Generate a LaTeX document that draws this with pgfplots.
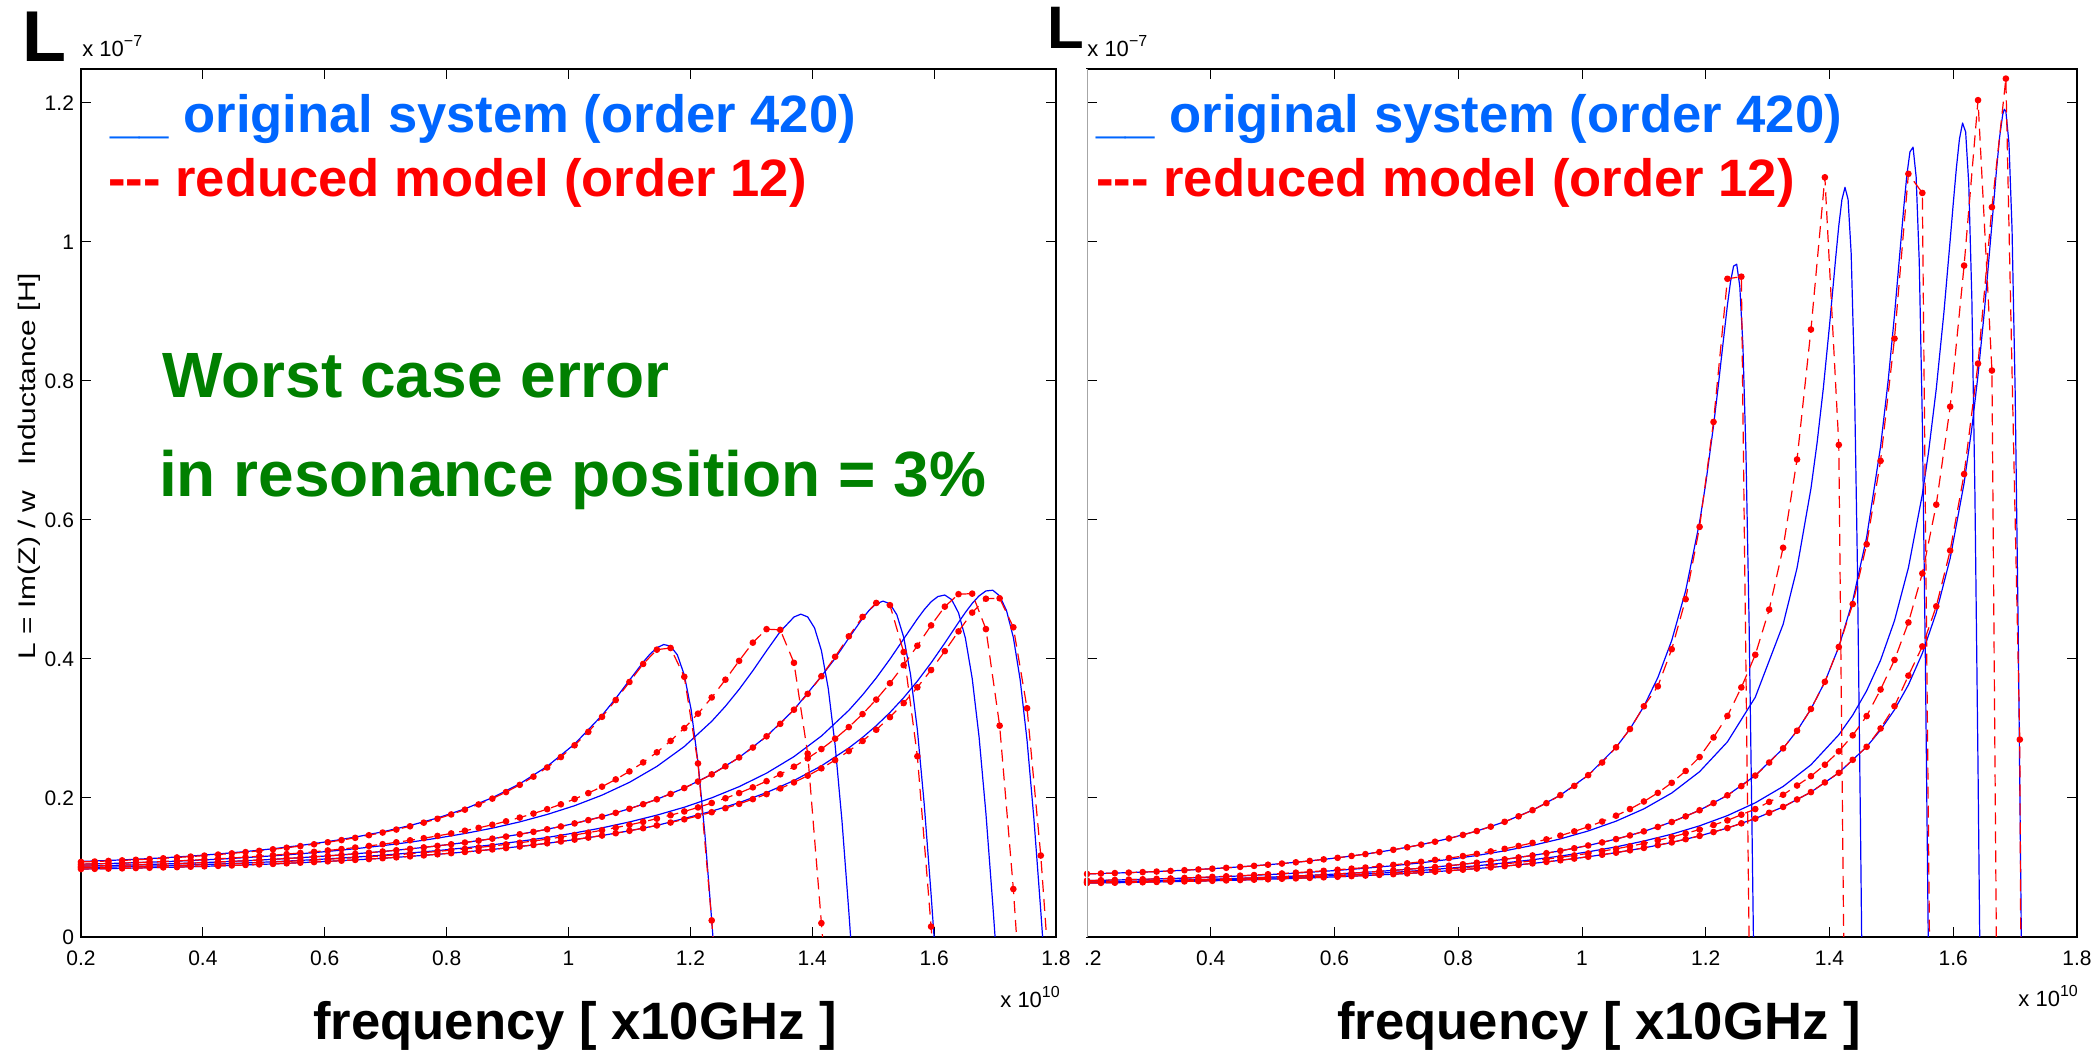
\documentclass[border=0pt]{standalone}
\usepackage{fontspec}
\setmainfont{Liberation Sans}
\usepackage{graphicx}
\usepackage{pgfplots}
\usepackage{pgfplotstable}
\pgfplotsset{compat=1.18}
\definecolor{legblue}{RGB}{0,102,255}
\definecolor{leggreen}{RGB}{0,128,0}
\definecolor{pblue}{RGB}{0,0,255}
\definecolor{pred}{RGB}{255,0,0}

\pgfplotstableread{
x r1 r2 r3 r4 r5
0.2 0.1080 0.1047 0.1020 0.0999 0.0978
0.2225 0.1086 0.1052 0.1024 0.1002 0.0981
0.245 0.1094 0.1058 0.1028 0.1005 0.0984
0.2675 0.1102 0.1064 0.1033 0.1009 0.0988
0.29 0.1111 0.1070 0.1038 0.1013 0.0992
0.3125 0.1121 0.1078 0.1044 0.1018 0.0996
0.335 0.1132 0.1086 0.1050 0.1023 0.1001
0.3575 0.1144 0.1094 0.1056 0.1028 0.1005
0.38 0.1157 0.1104 0.1063 0.1034 0.1011
0.4025 0.1171 0.1114 0.1071 0.1040 0.1017
0.425 0.1186 0.1125 0.1079 0.1047 0.1023
0.4475 0.1203 0.1136 0.1088 0.1054 0.1029
0.47 0.1221 0.1149 0.1097 0.1062 0.1036
0.4925 0.1240 0.1162 0.1107 0.1070 0.1044
0.515 0.1261 0.1177 0.1117 0.1078 0.1051
0.5375 0.1284 0.1192 0.1129 0.1087 0.1060
0.56 0.1308 0.1209 0.1141 0.1097 0.1069
0.5825 0.1334 0.1226 0.1153 0.1107 0.1078
0.605 0.1363 0.1245 0.1167 0.1118 0.1088
0.6275 0.1394 0.1265 0.1181 0.1130 0.1098
0.65 0.1427 0.1287 0.1197 0.1142 0.1109
0.6725 0.1464 0.1310 0.1213 0.1154 0.1121
0.695 0.1503 0.1335 0.1230 0.1168 0.1133
0.7175 0.1546 0.1362 0.1248 0.1182 0.1146
0.74 0.1593 0.1391 0.1268 0.1198 0.1160
0.7625 0.1645 0.1421 0.1289 0.1214 0.1174
0.785 0.1701 0.1454 0.1311 0.1231 0.1190
0.8075 0.1763 0.1490 0.1334 0.1249 0.1206
0.83 0.1832 0.1529 0.1359 0.1268 0.1223
0.8525 0.1907 0.1570 0.1386 0.1288 0.1241
0.875 0.1991 0.1615 0.1415 0.1309 0.1260
0.8975 0.2085 0.1664 0.1445 0.1332 0.1280
0.92 0.2189 0.1718 0.1478 0.1356 0.1302
0.9425 0.2307 0.1776 0.1513 0.1381 0.1324
0.965 0.2439 0.1839 0.1550 0.1408 0.1348
0.9875 0.2589 0.1909 0.1590 0.1437 0.1374
1.01 0.2758 0.1985 0.1634 0.1468 0.1401
1.0325 0.2951 0.2070 0.1681 0.1501 0.1430
1.055 0.3168 0.2163 0.1731 0.1536 0.1460
1.0775 0.3409 0.2267 0.1786 0.1573 0.1493
1.1 0.3669 0.2382 0.1845 0.1613 0.1528
1.1225 0.3928 0.2512 0.1910 0.1656 0.1565
1.145 0.4134 0.2657 0.1981 0.1703 0.1605
1.1675 0.4158 0.2821 0.2058 0.1752 0.1647
1.19 0.3744 0.3005 0.2143 0.1806 0.1693
1.2125 0.2497 0.3213 0.2237 0.1864 0.1742
1.235 0.0238 0.3446 0.2340 0.1928 0.1795
1.2575 -0.2324 0.3702 0.2455 0.1996 0.1853
1.28 nan 0.3973 0.2583 0.2071 0.1915
1.3025 nan 0.4235 0.2726 0.2153 0.1983
1.325 nan 0.4429 0.2887 0.2242 0.2056
1.3475 nan 0.4419 0.3067 0.2341 0.2137
1.37 nan 0.3945 0.3270 0.2450 0.2224
1.3925 nan 0.2638 0.3498 0.2570 0.2321
1.415 nan 0.0200 0.3752 0.2704 0.2427
1.4375 nan -0.2258 0.4032 0.2853 0.2545
1.46 nan nan 0.4326 0.3020 0.2675
1.4825 nan nan 0.4605 0.3207 0.2820
1.505 nan nan 0.4806 0.3416 0.2982
1.5275 nan nan 0.4774 0.3651 0.3163
1.55 nan nan 0.4100 0.3910 0.3366
1.5725 nan nan 0.2600 0.4191 0.3592
1.595 nan nan 0.0150 0.4483 0.3841
1.6175 nan nan -0.2390 0.4753 0.4113
1.64 nan nan nan 0.4932 0.4397
1.6625 nan nan nan 0.4940 0.4668
1.685 nan nan nan 0.4430 0.4867
1.7075 nan nan nan 0.3040 0.4873
1.73 nan nan nan 0.0690 0.4456
1.7525 nan nan nan -0.2242 0.3291
1.775 nan nan nan nan 0.1172
1.7975 nan nan nan nan -0.1600
}\leftred

\pgfplotstableread{
x r1 r2 r3 r4 r5
0.2 0.0907 0.0812 0.0790 0.0785 0.0775
0.2225 0.0913 0.0816 0.0793 0.0788 0.0778
0.245 0.0919 0.0820 0.0797 0.0790 0.0780
0.2675 0.0926 0.0825 0.0801 0.0794 0.0784
0.29 0.0933 0.0830 0.0805 0.0797 0.0787
0.3125 0.0941 0.0836 0.0810 0.0801 0.0791
0.335 0.0950 0.0842 0.0815 0.0806 0.0795
0.3575 0.0960 0.0849 0.0819 0.0810 0.0799
0.38 0.0971 0.0857 0.0825 0.0815 0.0804
0.4025 0.0982 0.0865 0.0831 0.0821 0.0808
0.425 0.0995 0.0873 0.0837 0.0826 0.0813
0.4475 0.1008 0.0882 0.0844 0.0832 0.0819
0.47 0.1023 0.0891 0.0852 0.0838 0.0824
0.4925 0.1039 0.0902 0.0859 0.0845 0.0830
0.515 0.1056 0.0913 0.0868 0.0852 0.0837
0.5375 0.1074 0.0925 0.0877 0.0859 0.0843
0.56 0.1094 0.0938 0.0886 0.0867 0.0850
0.5825 0.1116 0.0952 0.0896 0.0875 0.0858
0.605 0.1139 0.0967 0.0907 0.0884 0.0866
0.6275 0.1165 0.0983 0.0918 0.0894 0.0875
0.65 0.1192 0.0999 0.0930 0.0904 0.0883
0.6725 0.1222 0.1018 0.0944 0.0914 0.0893
0.695 0.1254 0.1037 0.0958 0.0925 0.0903
0.7175 0.1290 0.1059 0.0973 0.0937 0.0914
0.74 0.1328 0.1082 0.0989 0.0950 0.0925
0.7625 0.1370 0.1108 0.1006 0.0964 0.0939
0.785 0.1417 0.1135 0.1025 0.0979 0.0953
0.8075 0.1468 0.1164 0.1046 0.0996 0.0968
0.83 0.1524 0.1196 0.1068 0.1013 0.0984
0.8525 0.1587 0.1231 0.1092 0.1032 0.1001
0.875 0.1657 0.1268 0.1117 0.1051 0.1019
0.8975 0.1736 0.1309 0.1144 0.1073 0.1038
0.92 0.1824 0.1354 0.1173 0.1095 0.1058
0.9425 0.1925 0.1404 0.1205 0.1120 0.1080
0.965 0.2040 0.1458 0.1239 0.1145 0.1103
0.9875 0.2173 0.1519 0.1276 0.1173 0.1128
1.01 0.2328 0.1586 0.1316 0.1202 0.1154
1.0325 0.2510 0.1661 0.1360 0.1235 0.1183
1.055 0.2728 0.1745 0.1408 0.1268 0.1213
1.0775 0.2992 0.1840 0.1461 0.1306 0.1247
1.1 0.3319 0.1949 0.1519 0.1345 0.1281
1.1225 0.3606 0.2073 0.1583 0.1391 0.1321
1.145 0.4140 0.2218 0.1654 0.1437 0.1360
1.1675 0.4860 0.2388 0.1735 0.1491 0.1407
1.19 0.5900 0.2589 0.1823 0.1545 0.1454
1.2125 0.7410 0.2870 0.1926 0.1611 0.1510
1.235 0.9470 0.3180 0.2038 0.1677 0.1567
1.2575 0.9500 0.3590 0.2171 0.1759 0.1635
1.28 -0.7600 0.4060 0.2322 0.1840 0.1703
1.3025 nan 0.4710 0.2510 0.1943 0.1787
1.325 nan 0.5600 0.2713 0.2046 0.1871
1.3475 nan 0.6870 0.2967 0.2179 0.1978
1.37 nan 0.8740 0.3280 0.2313 0.2084
1.3925 nan 1.0930 0.3671 0.2478 0.2223
1.415 nan 0.7080 0.4173 0.2671 0.2362
1.4375 nan -1.3000 0.4790 0.2901 0.2549
1.46 nan nan 0.5650 0.3178 0.2736
1.4825 nan nan 0.6850 0.3560 0.3000
1.505 nan nan 0.8610 0.3986 0.3320
1.5275 nan nan 1.0980 0.4525 0.3760
1.55 nan nan 1.0705 0.5230 0.4180
1.5725 nan nan -1.0200 0.6220 0.4757
1.595 nan nan nan 0.7630 0.5560
1.6175 nan nan nan 0.9660 0.6660
1.64 nan nan nan 1.2040 0.8250
1.6625 nan nan nan 0.8150 1.0500
1.685 nan nan nan -1.7700 1.2350
1.7075 nan nan nan nan 0.2840
1.73 nan nan nan nan -4.0000
}\rightred

\pgfplotsset{
  panel/.style={
    scale only axis, height=434pt,
    xmin=0.2, xmax=1.8, ymin=0, ymax=1.2489,
    xtick={0.2,0.4,0.6,0.8,1,1.2,1.4,1.6,1.8},
    ytick={0,0.2,0.4,0.6,0.8,1,1.2},
    minor tick num=0,
    tick align=inside, major tick length=5pt,
    every tick/.style={black, line width=0.5pt},
    axis line style={line width=0.75pt},
    tick label style={font=\fontsize{10.5}{12}\selectfont},
    xticklabel style={yshift=-3.5pt},
    clip=true,
  },
  bl/.style={pblue, line width=0.6pt, line join=round, no markers},
  rd/.style={pred, line width=0.6pt, line join=round, dash pattern=on 6pt off 3.5pt,
     mark=*, mark size=1.35pt, mark options={solid, fill=pred, draw=pred}},
}

\begin{document}
\begin{tikzpicture}
% ---------------- left panel ----------------
\begin{axis}[panel, at={(40.5pt,57.5pt)}, anchor=south west, width=487.5pt,
  xticklabels={0.2,0.4,0.6,0.8,1,1.2,1.4,1.6,1.8},
  yticklabels={0,0.2,0.4,0.6,0.8,1,1.2}]
\addplot[bl] coordinates {(0.2,0.1087)(0.245,0.1101)(0.29,0.1118)(0.335,0.1139)(0.38,0.1164)(0.425,0.1194)(0.47,0.1229)(0.515,0.1269)(0.56,0.1317)(0.605,0.1372)(0.65,0.1437)(0.695,0.1513)(0.74,0.1604)(0.785,0.1712)(0.83,0.1844)(0.875,0.2004)(0.92,0.2204)(0.965,0.2455)(1.01,0.2776)(1.055,0.3189)(1.0775,0.3432)(1.1,0.3694)(1.1225,0.3954)(1.13375,0.4070)(1.145,0.4161)(1.15625,0.4208)(1.1675,0.4185)(1.17875,0.4057)(1.19,0.3769)(1.20125,0.3270)(1.2125,0.2513)(1.22375,0.1484)(1.235,0.0239)(1.24625,-0.109)(1.2575,-0.234)(1.28,-0.408)};
\addplot[bl] coordinates {(0.2,0.1047)(0.245,0.1057)(0.29,0.1069)(0.335,0.1083)(0.38,0.1100)(0.425,0.1119)(0.47,0.1142)(0.515,0.1168)(0.56,0.1197)(0.605,0.1231)(0.65,0.1270)(0.695,0.1314)(0.74,0.1364)(0.785,0.1422)(0.83,0.1489)(0.875,0.1566)(0.92,0.1656)(0.965,0.1763)(1.01,0.1889)(1.055,0.2041)(1.1,0.2225)(1.145,0.2454)(1.19,0.2740)(1.235,0.3103)(1.2575,0.3320)(1.28,0.3563)(1.3025,0.3831)(1.325,0.4118)(1.3475,0.4395)(1.37,0.4604)(1.38125,0.4645)(1.3925,0.4605)(1.40375,0.4447)(1.415,0.4122)(1.42625,0.3576)(1.4375,0.2762)(1.44875,0.1674)(1.46,0.0367)(1.47125,-0.1034)(1.4825,-0.2363)};
\addplot[bl] coordinates {(0.2,0.1020)(0.245,0.1028)(0.29,0.1038)(0.335,0.1050)(0.38,0.1063)(0.425,0.1079)(0.47,0.1097)(0.515,0.1117)(0.56,0.1141)(0.605,0.1167)(0.65,0.1197)(0.695,0.1230)(0.74,0.1268)(0.785,0.1311)(0.83,0.1359)(0.875,0.1415)(0.92,0.1478)(0.965,0.1550)(1.01,0.1634)(1.055,0.1731)(1.1,0.1845)(1.145,0.1981)(1.19,0.2143)(1.235,0.2340)(1.28,0.2583)(1.325,0.2887)(1.37,0.3270)(1.415,0.3752)(1.4375,0.4008)(1.46,0.4301)(1.4825,0.4584)(1.49375,0.4704)(1.505,0.4794)(1.51625,0.4833)(1.5275,0.4793)(1.53875,0.4637)(1.55,0.4315)(1.56125,0.3777)(1.5725,0.2980)(1.58375,0.1910)(1.595,0.0614)(1.60625,-0.0795)(1.6175,-0.216)};
\addplot[bl] coordinates {(0.2,0.0999)(0.245,0.1006)(0.29,0.1014)(0.335,0.1024)(0.38,0.1036)(0.425,0.1050)(0.47,0.1065)(0.515,0.1082)(0.56,0.1102)(0.605,0.1124)(0.65,0.1149)(0.695,0.1177)(0.74,0.1208)(0.785,0.1243)(0.83,0.1282)(0.875,0.1326)(0.92,0.1376)(0.965,0.1432)(1.01,0.1497)(1.055,0.1570)(1.1,0.1655)(1.145,0.1753)(1.19,0.1867)(1.235,0.2002)(1.28,0.2163)(1.325,0.2357)(1.37,0.2595)(1.415,0.2891)(1.46,0.3261)(1.4825,0.3482)(1.505,0.3727)(1.5275,0.3998)(1.55,0.4288)(1.5725,0.4577)(1.58375,0.4710)(1.595,0.4823)(1.60625,0.4899)(1.6175,0.4920)(1.62875,0.4854)(1.64,0.4664)(1.65125,0.4302)(1.6625,0.3719)(1.67375,0.2878)(1.685,0.1777)(1.69625,0.0468)(1.7075,-0.0935)(1.73,-0.343)};
\addplot[bl] coordinates {(0.2,0.0978)(0.245,0.0984)(0.29,0.0992)(0.335,0.1001)(0.38,0.1011)(0.425,0.1023)(0.47,0.1036)(0.515,0.1051)(0.56,0.1069)(0.605,0.1088)(0.65,0.1109)(0.695,0.1133)(0.74,0.1160)(0.785,0.1190)(0.83,0.1223)(0.875,0.1260)(0.92,0.1302)(0.965,0.1348)(1.01,0.1401)(1.055,0.1460)(1.1,0.1528)(1.145,0.1605)(1.19,0.1705)(1.235,0.1810)(1.28,0.1933)(1.325,0.2078)(1.37,0.2251)(1.415,0.2462)(1.46,0.2720)(1.4825,0.2871)(1.505,0.3040)(1.5275,0.3230)(1.55,0.3443)(1.5725,0.3681)(1.595,0.3944)(1.6175,0.4229)(1.64,0.4525)(1.65125,0.4669)(1.6625,0.4800)(1.67375,0.4908)(1.685,0.4979)(1.69625,0.4989)(1.7075,0.4908)(1.71875,0.4697)(1.73,0.4310)(1.74125,0.3697)(1.7525,0.2827)(1.76375,0.1699)(1.775,0.0374)(1.78625,-0.103)(1.7975,-0.237)};
\addplot[rd] table[x=x,y=r1]{\leftred};
\addplot[rd] table[x=x,y=r2]{\leftred};
\addplot[rd] table[x=x,y=r3]{\leftred};
\addplot[rd] table[x=x,y=r4]{\leftred};
\addplot[rd] table[x=x,y=r5]{\leftred};
\end{axis}
% ---------------- right panel ----------------
\begin{axis}[panel, name=R, at={(543.5pt,57.5pt)}, anchor=south west, width=495pt,
  xticklabels={\phantom{0}.2,0.4,0.6,0.8,1,1.2,1.4,1.6,1.8},
  yticklabels={}]
\addplot[bl] coordinates {(0.2,0.0907)(0.245,0.0919)(0.29,0.0933)(0.335,0.0950)(0.38,0.0971)(0.425,0.0995)(0.47,0.1023)(0.515,0.1056)(0.56,0.1094)(0.605,0.1139)(0.65,0.1192)(0.695,0.1254)(0.74,0.1328)(0.785,0.1417)(0.83,0.1524)(0.875,0.1657)(0.92,0.1824)(0.965,0.2040)(1.01,0.2328)(1.055,0.2728)(1.0775,0.2992)(1.1,0.3319)(1.1225,0.3731)(1.145,0.4267)(1.1675,0.4982)(1.19,0.5969)(1.2,0.6527)(1.2125,0.7353)(1.22,0.7914)(1.2275,0.8509)(1.235,0.9093)(1.24,0.9427)(1.245,0.9653)(1.25,0.9679)(1.255,0.9361)(1.26,0.8519)(1.265,0.6945)(1.27,0.4532)(1.275,0.1386)(1.28,-0.2059)(1.29,-0.7616)};
\addplot[bl] coordinates {(0.2,0.0811)(0.245,0.0819)(0.29,0.0829)(0.335,0.0840)(0.38,0.0853)(0.425,0.0869)(0.47,0.0887)(0.515,0.0907)(0.56,0.0931)(0.605,0.0958)(0.65,0.0989)(0.695,0.1025)(0.74,0.1067)(0.785,0.1116)(0.83,0.1172)(0.875,0.1239)(0.92,0.1317)(0.965,0.1411)(1.01,0.1525)(1.055,0.1666)(1.1,0.1843)(1.145,0.2071)(1.19,0.2378)(1.235,0.2807)(1.28,0.3449)(1.325,0.4498)(1.3475,0.5308)(1.37,0.6453)(1.38,0.7116)(1.39,0.7896)(1.4,0.8799)(1.41,0.9774)(1.415,1.0234)(1.42,1.0606)(1.425,1.0786)(1.43,1.0611)(1.435,0.9833)(1.44,0.8159)(1.445,0.5382)(1.45,0.1625)(1.455,-0.2529)(1.465,-0.8909)};
\addplot[bl] coordinates {(0.2,0.0790)(0.245,0.0797)(0.29,0.0805)(0.335,0.0815)(0.38,0.0825)(0.425,0.0837)(0.47,0.0852)(0.515,0.0868)(0.56,0.0886)(0.605,0.0907)(0.65,0.0930)(0.695,0.0958)(0.74,0.0989)(0.785,0.1025)(0.83,0.1068)(0.875,0.1117)(0.92,0.1173)(0.965,0.1239)(1.01,0.1316)(1.055,0.1408)(1.1,0.1519)(1.145,0.1654)(1.19,0.1823)(1.235,0.2038)(1.28,0.2322)(1.325,0.2713)(1.3475,0.2967)(1.37,0.3280)(1.3925,0.3671)(1.415,0.4173)(1.4375,0.4837)(1.46,0.5751)(1.4825,0.7054)(1.495,0.8023)(1.505,0.8948)(1.515,0.9978)(1.52,1.0496)(1.525,1.0964)(1.53,1.1296)(1.535,1.1364)(1.54,1.0935)(1.545,0.9724)(1.55,0.7413)(1.555,0.3918)(1.56,-0.0405)(1.565,-0.4708)(1.575,-1.035)};
\addplot[bl] coordinates {(0.2,0.0785)(0.245,0.0790)(0.29,0.0797)(0.335,0.0806)(0.38,0.0815)(0.425,0.0826)(0.47,0.0838)(0.515,0.0852)(0.56,0.0867)(0.605,0.0885)(0.65,0.0906)(0.695,0.0929)(0.74,0.0957)(0.785,0.0989)(0.83,0.1024)(0.875,0.1065)(0.92,0.1111)(0.965,0.1164)(1.01,0.1225)(1.055,0.1296)(1.1,0.1380)(1.145,0.1479)(1.19,0.1599)(1.235,0.1746)(1.28,0.1930)(1.325,0.2165)(1.37,0.2477)(1.415,0.2909)(1.4375,0.3192)(1.46,0.3542)(1.4825,0.3982)(1.505,0.4551)(1.5275,0.5312)(1.55,0.6367)(1.56,0.6973)(1.5725,0.7885)(1.585,0.8998)(1.595,1.0026)(1.6,1.0555)(1.605,1.1061)(1.61,1.1482)(1.615,1.1711)(1.62,1.1582)(1.625,1.0842)(1.63,0.9192)(1.635,0.6370)(1.64,0.2443)(1.645,-0.2024)(1.655,-0.9237)};
\addplot[bl] coordinates {(0.2,0.0775)(0.245,0.0780)(0.29,0.0787)(0.335,0.0795)(0.38,0.0804)(0.425,0.0813)(0.47,0.0824)(0.515,0.0837)(0.56,0.0850)(0.605,0.0866)(0.65,0.0883)(0.695,0.0903)(0.74,0.0925)(0.785,0.0953)(0.83,0.0984)(0.875,0.1019)(0.92,0.1058)(0.965,0.1103)(1.01,0.1154)(1.055,0.1213)(1.1,0.1281)(1.145,0.1360)(1.19,0.1454)(1.235,0.1567)(1.28,0.1703)(1.325,0.1871)(1.37,0.2084)(1.415,0.2362)(1.46,0.2736)(1.4825,0.2978)(1.505,0.3269)(1.5275,0.3628)(1.55,0.4081)(1.5725,0.4666)(1.595,0.5448)(1.6175,0.6530)(1.63,0.7322)(1.64,0.8084)(1.65,0.8977)(1.6625,1.0262)(1.67,1.1052)(1.675,1.1516)(1.68,1.1839)(1.6825,1.1908)(1.685,1.1880)(1.69,1.1421)(1.695,1.0181)(1.7,0.7857)(1.705,0.4361)(1.71,0)(1.715,-0.4412)(1.725,-1.05)};
\addplot[rd] table[x=x,y=r1]{\rightred};
\addplot[rd] table[x=x,y=r2]{\rightred};
\addplot[rd] table[x=x,y=r3]{\rightred};
\addplot[rd] table[x=x,y=r4]{\rightred};
\addplot[rd] table[x=x,y=r5]{\rightred};
\end{axis}
% grey left spine of the right panel
\draw[white, line width=1.4pt] (R.south west) -- (R.north west);
\draw[black!35, line width=0.5pt] (R.south west) -- (R.north west);

% ---------------- texts ----------------
\node[anchor=base west, inner sep=0, font=\fontsize{36}{36}\selectfont\bfseries] at (11pt,495pt) {L};
\node[anchor=base west, inner sep=0, font=\fontsize{30}{30}\selectfont\bfseries] at (523.5pt,501.5pt) {L};
\node[anchor=base west, inner sep=0, font=\fontsize{11}{12}\selectfont] at (41pt,497.5pt) {x 10\raisebox{5pt}{\fontsize{8}{9}\selectfont −7}};
\node[anchor=base west, inner sep=0, font=\fontsize{11}{12}\selectfont] at (543.5pt,497.5pt) {x 10\raisebox{5pt}{\fontsize{8}{9}\selectfont −7}};
\node[anchor=base west, inner sep=0, font=\fontsize{11}{12}\selectfont] at (500pt,22pt) {x 10\raisebox{5pt}{\fontsize{8}{9}\selectfont 10}};
\node[anchor=base west, inner sep=0, font=\fontsize{11}{12}\selectfont] at (1009pt,22.5pt) {x 10\raisebox{5pt}{\fontsize{8}{9}\selectfont 10}};

\node[anchor=base west, inner sep=0, text=legblue, font=\fontsize{26.3}{30}\selectfont\bfseries] at (55pt,459.5pt) {\_\_ original system (order 420)};
\node[anchor=base west, inner sep=0, text=pred, font=\fontsize{26.3}{30}\selectfont\bfseries] at (53.9pt,427.5pt) {-{}-{}- reduced model (order 12)};
\node[anchor=base west, inner sep=0, text=legblue, font=\fontsize{26.3}{30}\selectfont\bfseries] at (548pt,459.5pt) {\_\_ original system (order 420)};
\node[anchor=base west, inner sep=0, text=pred, font=\fontsize{26.3}{30}\selectfont\bfseries] at (547.9pt,427.5pt) {-{}-{}- reduced model (order 12)};

\node[anchor=base west, inner sep=0, text=leggreen, font=\fontsize{32}{38}\selectfont\bfseries] at (81pt,327pt) {Worst case error};
\node[anchor=base west, inner sep=0, text=leggreen, font=\fontsize{32}{38}\selectfont\bfseries] at (79.4pt,277.5pt) {in resonance position = 3\%};

\node[anchor=base, inner sep=0, font=\fontsize{26.3}{30}\selectfont\bfseries] at (287.5pt,6pt) {frequency [ x10GHz ]};
\node[anchor=base, inner sep=0, font=\fontsize{26.3}{30}\selectfont\bfseries] at (799.5pt,6pt) {frequency [ x10GHz ]};

\node[rotate=90, inner sep=0, font=\fontsize{12}{14}\selectfont] at (14.5pt,293pt) {\scalebox{1.245}[1]{L = Im(Z) / w\ \ \ Inductance [H]}};

\pgfresetboundingbox
\path[use as bounding box] (0,0) rectangle (1048.5pt,526pt);
\end{tikzpicture}
\end{document}
